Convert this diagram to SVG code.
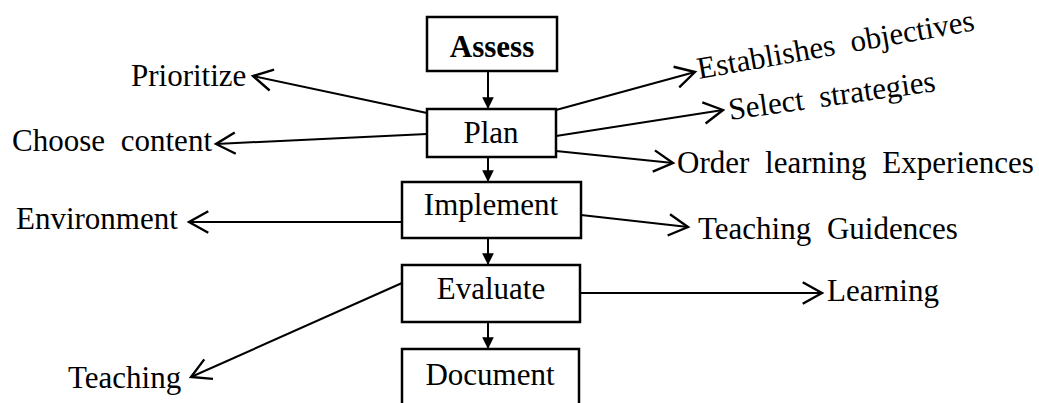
<svg xmlns="http://www.w3.org/2000/svg" width="1039" height="403" viewBox="0 0 1039 403">
  <style>
    .box { fill: #ffffff; stroke: #000000; stroke-width: 2.5; }
    .lbl { font-family: "Liberation Serif", "Times New Roman", serif; font-size: 31px; fill: #000000; word-spacing: 8px; }
    .mid { text-anchor: middle; }
    .bold { font-weight: bold; }
    .link { stroke: #000000; stroke-width: 2; fill: none; }
    .open { marker-end: url(#chevron); }
    .down { marker-end: url(#solid); }
  </style>
  <defs>
    <marker id="chevron" markerUnits="userSpaceOnUse" markerWidth="30" markerHeight="30" viewBox="-22 -14 26 28" refX="0" refY="0" orient="auto">
      <path d="M -18 -10 L 0 0 L -18 10" fill="none" stroke="#000000" stroke-width="2.2" stroke-linejoin="miter"/>
    </marker>
    <marker id="solid" markerUnits="userSpaceOnUse" markerWidth="14" markerHeight="14" viewBox="-11 -6 12 12" refX="0" refY="0" orient="auto">
      <path d="M -10 -5 L 0 0 L -10 5 Z" fill="#000000"/>
    </marker>
  </defs>

  <!-- connectors -->
  <g id="connectors">
    <!-- main flow -->
    <line class="link down" x1="488" y1="71" x2="488" y2="109"/>
    <line class="link down" x1="488" y1="157" x2="488" y2="182"/>
    <line class="link down" x1="488" y1="238" x2="488" y2="265"/>
    <line class="link down" x1="488" y1="322" x2="488" y2="349"/>
    <!-- left branches -->
    <line class="link open" x1="427" y1="113" x2="253" y2="76"/>
    <line class="link open" x1="427" y1="134" x2="216" y2="144"/>
    <line class="link open" x1="402" y1="222" x2="189" y2="222"/>
    <line class="link open" x1="402" y1="283" x2="191" y2="377"/>
    <!-- right branches -->
    <line class="link open" x1="556" y1="110" x2="695" y2="72"/>
    <line class="link open" x1="556" y1="136" x2="723" y2="110"/>
    <line class="link open" x1="556" y1="151" x2="673" y2="163"/>
    <line class="link open" x1="581" y1="215" x2="688" y2="227"/>
    <line class="link open" x1="580" y1="293" x2="822" y2="293"/>
  </g>

  <!-- process steps -->
  <g id="assess">
    <rect class="box" x="427" y="17" width="130" height="54"/>
    <text class="lbl mid bold" x="492" y="57">Assess</text>
  </g>
  <g id="plan">
    <rect class="box" x="427" y="109" width="129" height="48"/>
    <text class="lbl mid" x="491" y="143">Plan</text>
  </g>
  <g id="implement">
    <rect class="box" x="402" y="182" width="179" height="56"/>
    <text class="lbl mid" x="491" y="215">Implement</text>
  </g>
  <g id="evaluate">
    <rect class="box" x="402" y="265" width="178" height="57"/>
    <text class="lbl mid" x="491" y="299">Evaluate</text>
  </g>
  <g id="document">
    <rect class="box" x="402" y="349" width="177" height="70"/>
    <text class="lbl mid" x="490" y="385">Document</text>
  </g>

  <!-- branch labels -->
  <g id="prioritize"><text class="lbl" x="131" y="86">Prioritize</text></g>
  <g id="choose-content"><text class="lbl" x="12" y="151">Choose content</text></g>
  <g id="environment"><text class="lbl" x="16" y="229">Environment</text></g>
  <g id="teaching"><text class="lbl" x="68" y="388">Teaching</text></g>
  <g id="establishes-objectives"><text class="lbl" x="699" y="79" transform="rotate(-10 699 79)">Establishes objectives</text></g>
  <g id="select-strategies"><text class="lbl" x="730" y="120" transform="rotate(-8 730 120)">Select strategies</text></g>
  <g id="order-learning"><text class="lbl" x="677" y="173">Order learning Experiences</text></g>
  <g id="teaching-guidences"><text class="lbl" x="698" y="239">Teaching Guidences</text></g>
  <g id="learning"><text class="lbl" x="827" y="301">Learning</text></g>
</svg>
